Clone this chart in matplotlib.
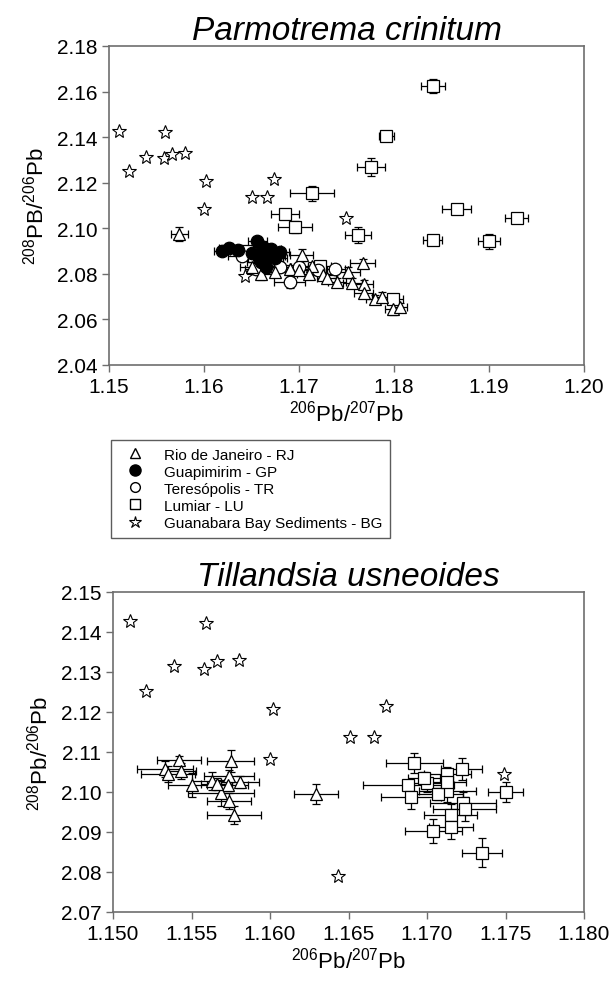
import numpy as np
import matplotlib.pyplot as plt
from matplotlib.lines import Line2D

plt.rcParams['font.family'] = ['Liberation Sans', 'DejaVu Sans']
plt.rcParams['mathtext.fontset'] = 'custom'
plt.rcParams['mathtext.rm'] = 'Liberation Sans'

# ---- Parmotrema crinitum (top panel) ----
# Rio de Janeiro - RJ
rj1_x = [1.1574, 1.1660, 1.1675, 1.1690, 1.1703, 1.1700, 1.1714, 1.1710, 1.1725, 1.1729,
         1.1740, 1.1752, 1.1756, 1.1767, 1.1768, 1.1768, 1.1780, 1.1787, 1.1799, 1.1806, 1.1650]
rj1_y = [2.0974, 2.0800, 2.0810, 2.0820, 2.0882, 2.0815, 2.0833, 2.0800, 2.0795, 2.0780,
         2.0763, 2.0807, 2.0762, 2.0846, 2.0754, 2.0718, 2.0688, 2.0700, 2.0644, 2.0653, 2.0830]
rj1_xe = [0.0009, 0.0015, 0.0012, 0.0015, 0.0012, 0.0010, 0.0010, 0.0012, 0.0015, 0.0010,
          0.0010, 0.0012, 0.0010, 0.0013, 0.0010, 0.0010, 0.0010, 0.0010, 0.0008, 0.0008, 0.0012]
rj1_ye = [0.0030, 0.0025, 0.0020, 0.0020, 0.0025, 0.0020, 0.0020, 0.0020, 0.0020, 0.0020,
          0.0020, 0.0025, 0.0020, 0.0020, 0.0020, 0.0020, 0.0020, 0.0020, 0.0025, 0.0020, 0.0020]

# Guapimirim - GP
gp1_x = [1.1619, 1.1626, 1.1636, 1.1650, 1.1656, 1.1658, 1.1660, 1.1662, 1.1665, 1.1668,
         1.1671, 1.1675, 1.1680, 1.1663]
gp1_y = [2.0900, 2.0915, 2.0905, 2.0890, 2.0943, 2.0870, 2.0850, 2.0920, 2.0830, 2.0880,
         2.0908, 2.0870, 2.0895, 2.0895]
gp1_xe = [0.0008, 0.0010, 0.0012, 0.0015, 0.0010, 0.0012, 0.0015, 0.0010, 0.0012, 0.0015,
          0.0010, 0.0012, 0.0010, 0.0016]
gp1_ye = [0.0015, 0.0020, 0.0020, 0.0020, 0.0020, 0.0025, 0.0020, 0.0020, 0.0025, 0.0020,
          0.0020, 0.0020, 0.0020, 0.0020]

# Teresopolis - TR
tr1_x = [1.1690, 1.1738, 1.1655, 1.1665, 1.1680, 1.1700, 1.1720, 1.1640, 1.1668]
tr1_y = [2.0763, 2.0820, 2.0820, 2.0845, 2.0830, 2.0830, 2.0815, 2.0880, 2.0855]
tr1_xe = [0.0016, 0.0010, 0.0012, 0.0012, 0.0012, 0.0010, 0.0010, 0.0015, 0.0015]
tr1_ye = [0.0025, 0.0020, 0.0020, 0.0020, 0.0020, 0.0020, 0.0020, 0.0020, 0.0020]

# Lumiar - LU
lu1_x = [1.1841, 1.1792, 1.1776, 1.1714, 1.1866, 1.1929, 1.1841, 1.1900, 1.1762, 1.1685,
         1.1696, 1.1722, 1.1799, 1.1670, 1.1645]
lu1_y = [2.1624, 2.1404, 2.1268, 2.1154, 2.1084, 2.1044, 2.0947, 2.0943, 2.0969, 2.1062,
         2.1004, 2.0833, 2.0688, 2.0880, 2.0900]
lu1_xe = [0.0013, 0.0008, 0.0015, 0.0023, 0.0015, 0.0012, 0.0010, 0.0012, 0.0014, 0.0015,
          0.0018, 0.0012, 0.0010, 0.0015, 0.0015]
lu1_ye = [0.0030, 0.0020, 0.0040, 0.0033, 0.0005, 0.0005, 0.0005, 0.0033, 0.0035, 0.0005,
          0.0026, 0.0020, 0.0020, 0.0020, 0.0020]

# Guanabara Bay Sediments - BG (same in both panels)
bg_x = [1.1511, 1.1521, 1.1539, 1.1559, 1.1558, 1.1566, 1.1580, 1.1602, 1.1600, 1.1651,
        1.1666, 1.1674, 1.1749, 1.1643]
bg_y = [2.1428, 2.1253, 2.1315, 2.1423, 2.1307, 2.1328, 2.1330, 2.1207, 2.1083, 2.1138,
        2.1138, 2.1215, 2.1046, 2.0790]

# ---- Tillandsia usneoides (bottom panel) ----
rj2_x = [1.1533, 1.1535, 1.1542, 1.1543, 1.1550, 1.1563, 1.1575, 1.1574, 1.1573, 1.1569,
         1.1574, 1.1577, 1.1629, 1.1581, 1.1566]
rj2_y = [2.1058, 2.1045, 2.1080, 2.1053, 2.1018, 2.1028, 2.1078, 2.1040, 2.1018, 2.0998,
         2.0978, 2.0943, 2.0995, 2.1025, 2.1020]
rj2_xe = [0.0018, 0.0017, 0.0014, 0.0010, 0.0015, 0.0013, 0.0015, 0.0016, 0.0013, 0.0021,
          0.0014, 0.0017, 0.0014, 0.0012, 0.0010]
rj2_ye = [0.0020, 0.0020, 0.0011, 0.0020, 0.0030, 0.0023, 0.0027, 0.0015, 0.0015, 0.0033,
          0.0020, 0.0022, 0.0025, 0.0015, 0.0015]

lu2_x = [1.1692, 1.1722, 1.1713, 1.1700, 1.1688, 1.1713, 1.1707, 1.1690, 1.1750, 1.1723,
         1.1724, 1.1715, 1.1704, 1.1715, 1.1735, 1.1713, 1.1698]
lu2_y = [2.1073, 2.1057, 2.1045, 2.1023, 2.1018, 2.1003, 2.0995, 2.0988, 2.1000, 2.0973,
         2.0958, 2.0943, 2.0903, 2.0913, 2.0848, 2.1025, 2.1035]
lu2_xe = [0.0018, 0.0013, 0.0015, 0.0014, 0.0029, 0.0018, 0.0016, 0.0019, 0.0011, 0.0021,
          0.0020, 0.0017, 0.0018, 0.0014, 0.0013, 0.0012, 0.0010]
lu2_ye = [0.0025, 0.0027, 0.0017, 0.0023, 0.0005, 0.0027, 0.0015, 0.0030, 0.0024, 0.0027,
          0.0030, 0.0027, 0.0030, 0.0030, 0.0036, 0.0015, 0.0015]

x1_ticks = [1.15, 1.16, 1.17, 1.18, 1.19, 1.20]
y1_ticks = [2.04, 2.06, 2.08, 2.10, 2.12, 2.14, 2.16, 2.18]
x2_ticks = [1.150, 1.155, 1.160, 1.165, 1.170, 1.175, 1.180]
y2_ticks = [2.07, 2.08, 2.09, 2.10, 2.11, 2.12, 2.13, 2.14, 2.15]

legend_labels = ['Rio de Janeiro - RJ', 'Guapimirim - GP', 'Teresópolis - TR',
                 'Lumiar - LU', 'Guanabara Bay Sediments - BG']

spine_col = '#6e6e6e'
eb = dict(ecolor='black', elinewidth=0.9, capsize=3, capthick=0.9, mec='black',
          mew=0.9, linestyle='none')


def style_axes(ax, xt, yt, xfmt, yfmt):
    ax.set_xlim(xt[0], xt[-1])
    ax.set_ylim(yt[0], yt[-1])
    ax.set_xticks(xt)
    ax.set_yticks(yt)
    ax.set_xticklabels([xfmt.format(v) for v in xt])
    ax.set_yticklabels([yfmt.format(v) for v in yt])
    ax.tick_params(direction='out', length=5, width=1, color=spine_col,
                   labelsize=15, top=False, right=False)
    for s in ax.spines.values():
        s.set_color(spine_col)
        s.set_linewidth(1.2)


fig = plt.figure(figsize=(6.15, 9.87), dpi=100)

ax1 = fig.add_axes([109 / 615, 1 - 366 / 987, 475 / 615, 319 / 987])
ax1.errorbar(lu1_x, lu1_y, xerr=lu1_xe, yerr=lu1_ye, fmt='s', ms=8, mfc='white', **eb)
ax1.errorbar(tr1_x, tr1_y, xerr=tr1_xe, yerr=tr1_ye, fmt='o', ms=9, mfc='white', **eb)
ax1.errorbar(rj1_x, rj1_y, xerr=rj1_xe, yerr=rj1_ye, fmt='^', ms=9, mfc='white', **eb)
ax1.errorbar(gp1_x, gp1_y, xerr=gp1_xe, yerr=gp1_ye, fmt='o', ms=9, mfc='black', **eb)
ax1.plot(bg_x, bg_y, '*', ms=10, mfc='white', mec='black', mew=0.8, linestyle='none')
style_axes(ax1, x1_ticks, y1_ticks, '{:.2f}', '{:.2f}')
ax1.set_title('Parmotrema crinitum', fontsize=24, style='italic', pad=2)
ax1.set_xlabel(r'$^{206}$Pb/$^{207}$Pb', fontsize=16, labelpad=3)
ax1.set_ylabel(r'$^{208}$PB/$^{206}$Pb', fontsize=16, labelpad=6)

ax2 = fig.add_axes([113 / 615, 1 - 913 / 987, 471 / 615, 320 / 987])
ax2.errorbar(lu2_x, lu2_y, xerr=lu2_xe, yerr=lu2_ye, fmt='s', ms=8, mfc='white', **eb)
ax2.errorbar(rj2_x, rj2_y, xerr=rj2_xe, yerr=rj2_ye, fmt='^', ms=9, mfc='white', **eb)
ax2.plot(bg_x, bg_y, '*', ms=10, mfc='white', mec='black', mew=0.8, linestyle='none')
style_axes(ax2, x2_ticks, y2_ticks, '{:.3f}', '{:.2f}')
ax2.set_title('Tillandsia usneoides', fontsize=24, style='italic', pad=2)
ax2.set_xlabel(r'$^{206}$Pb/$^{207}$Pb', fontsize=16, labelpad=3)
ax2.set_ylabel(r'$^{208}$Pb/$^{206}$Pb', fontsize=16, labelpad=6)

handles = [
    Line2D([], [], marker='^', ms=7, mfc='white', mec='black', ls='none'),
    Line2D([], [], marker='o', ms=8, mfc='black', mec='black', ls='none'),
    Line2D([], [], marker='o', ms=7, mfc='white', mec='black', ls='none'),
    Line2D([], [], marker='s', ms=7, mfc='white', mec='black', ls='none'),
    Line2D([], [], marker='*', ms=9, mfc='white', mec='black', mew=0.8, ls='none'),
]
leg = fig.legend(handles, legend_labels, loc='upper left',
                 bbox_to_anchor=(111 / 615, 1 - 441 / 987), borderaxespad=0,
                 fontsize=11, frameon=True, fancybox=False, edgecolor='#333333',
                 labelspacing=0.2, handletextpad=0.8, borderpad=0.5, handlelength=2.2)
leg.get_frame().set_linewidth(1.0)

fig.savefig('out.png', dpi=100)
